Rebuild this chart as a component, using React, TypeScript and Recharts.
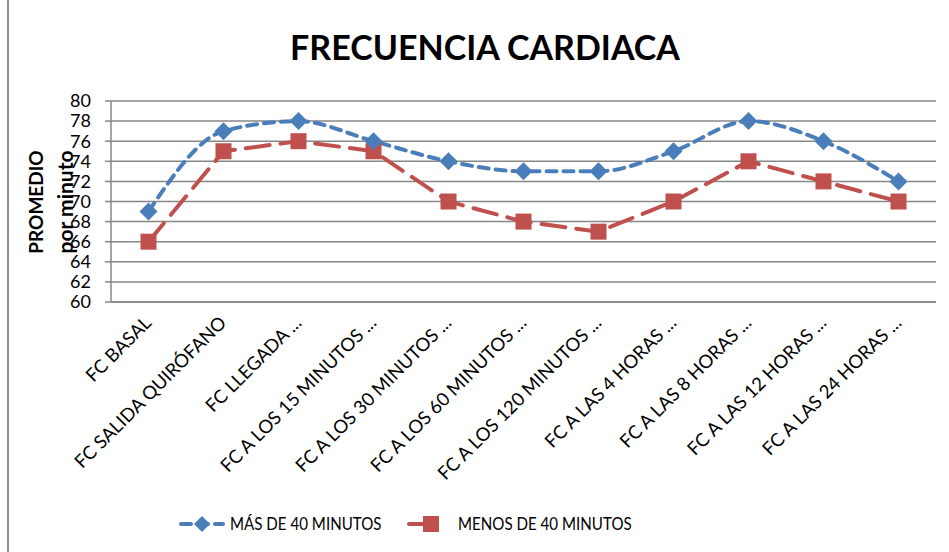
import React from "react";
import { LineChart, Line, XAxis, YAxis, CartesianGrid } from "recharts";

const categories = [
  "FC BASAL",
  "FC SALIDA QUIRÓFANO",
  "FC LLEGADA ...",
  "FC A LOS 15 MINUTOS ...",
  "FC A LOS 30 MINUTOS ...",
  "FC A LOS 60 MINUTOS ...",
  "FC A LOS 120 MINUTOS ...",
  "FC A LAS 4 HORAS ...",
  "FC A LAS 8 HORAS ...",
  "FC A LAS 12 HORAS ...",
  "FC A LAS 24 HORAS ...",
];
const masDe40 = [69, 77, 78, 76, 74, 73, 73, 75, 78, 76, 72];
const menosDe40 = [66, 75, 76, 75, 70, 68, 67, 70, 74, 72, 70];
const yTicks = [60, 62, 64, 66, 68, 70, 72, 74, 76, 78, 80];

const data = categories.map((cat, i) => ({ cat, mas: masDe40[i], menos: menosDe40[i] }));

const FONT = "Lato, 'Noto Sans', sans-serif";
const BLUE = "#4A7EBB";
const RED = "#C0504D";
const GRID = "#878787";

const Diamond = (props: any) => {
  const { cx, cy } = props;
  if (cx == null || cy == null) return null;
  const r = 9;
  return <path d={`M${cx},${cy - r}L${cx + r},${cy}L${cx},${cy + r}L${cx - r},${cy}Z`} fill={BLUE} />;
};

const Square = (props: any) => {
  const { cx, cy } = props;
  if (cx == null || cy == null) return null;
  return <rect x={cx - 8} y={cy - 8} width={16} height={16} fill={RED} />;
};

const CatTick = (props: any) => {
  const { x, y, payload } = props;
  return (
    <g transform={`translate(${x + 4},${y + 14})`}>
      <text x={0} y={0} textAnchor="end" transform="rotate(-45)" fontSize={18.5} fill="#000" fontFamily={FONT}>
        {payload.value}
      </text>
    </g>
  );
};

export default function App() {
  return (
    <div style={{ position: "absolute", left: 0, top: 0, width: 949, height: 552, background: "#fff", fontFamily: FONT }}>
      <div style={{ position: "absolute", left: 7, top: 0, width: 2, height: 552, background: "#8c8c8c" }} />
      <div
        style={{
          position: "absolute",
          left: 0,
          width: 970,
          top: 26,
          textAlign: "center",
          fontSize: 34,
          fontWeight: 700,
          color: "#000",
        }}
      >
        FRECUENCIA CARDIACA
      </div>
      <div
        style={{
          position: "absolute",
          left: 35,
          top: 202,
          transform: "translate(-50%, -50%) rotate(-90deg)",
          fontSize: 19,
          fontWeight: 700,
          whiteSpace: "nowrap",
        }}
      >
        PROMEDIO
      </div>
      <div
        style={{
          position: "absolute",
          left: 64,
          top: 202,
          transform: "translate(-50%, -50%) rotate(-90deg)",
          fontSize: 21,
          fontWeight: 700,
          whiteSpace: "nowrap",
        }}
      >
        por minuto
      </div>
      <div style={{ position: "absolute", left: 0, top: 0 }}>
        <LineChart width={949} height={552} data={data} margin={{ top: 101, right: 13, bottom: 0, left: 0 }}>
          <CartesianGrid vertical={false} stroke={GRID} strokeWidth={1.5} />
          <XAxis
            dataKey="cat"
            interval={0}
            tick={<CatTick />}
            tickLine={false}
            axisLine={{ stroke: GRID, strokeWidth: 1.5 }}
            height={250}
            padding={{ left: 37.5, right: 37.5 }}
          />
          <YAxis
            domain={[60, 80]}
            ticks={yTicks}
            interval={0}
            width={111}
            tickSize={6}
            tickMargin={14}
            tickLine={{ stroke: GRID, strokeWidth: 1.5 }}
            axisLine={{ stroke: GRID, strokeWidth: 1.5 }}
            tick={{ fontSize: 18, fill: "#000", fontFamily: FONT }}
          />
          <Line
            type="linear"
            dataKey="menos"
            stroke={RED}
            strokeWidth={4}
            strokeDasharray="24 11"
            strokeLinecap="round"
            dot={<Square />}
            activeDot={false}
            isAnimationActive={false}
          />
          <Line
            type="monotone"
            dataKey="mas"
            stroke={BLUE}
            strokeWidth={4}
            strokeDasharray="10 7"
            strokeLinecap="round"
            dot={<Diamond />}
            activeDot={false}
            isAnimationActive={false}
          />
        </LineChart>
      </div>
      <div style={{ position: "absolute", left: 0, top: 510, width: 949, height: 28, fontSize: 18, color: "#000" }}>
        <svg style={{ position: "absolute", left: 178, top: 3 }} width={48} height={22}>
          <line x1={3} y1={11} x2={45} y2={11} stroke={BLUE} strokeWidth={4} strokeDasharray="10 7" strokeLinecap="round" />
          <path d="M24,3L32,11L24,19L16,11Z" fill={BLUE} />
        </svg>
        <span
          style={{ position: "absolute", left: 230, top: 2, whiteSpace: "nowrap", transform: "scaleX(0.84)", transformOrigin: "left center" }}
        >
          MÁS DE 40 MINUTOS
        </span>
        <svg style={{ position: "absolute", left: 406, top: 3 }} width={36} height={22}>
          <line x1={3} y1={11} x2={28} y2={11} stroke={RED} strokeWidth={4} strokeLinecap="round" />
          <rect x={17} y={3} width={16} height={16} fill={RED} />
        </svg>
        <span
          style={{ position: "absolute", left: 458, top: 2, whiteSpace: "nowrap", transform: "scaleX(0.84)", transformOrigin: "left center" }}
        >
          MENOS DE 40 MINUTOS
        </span>
      </div>
    </div>
  );
}
